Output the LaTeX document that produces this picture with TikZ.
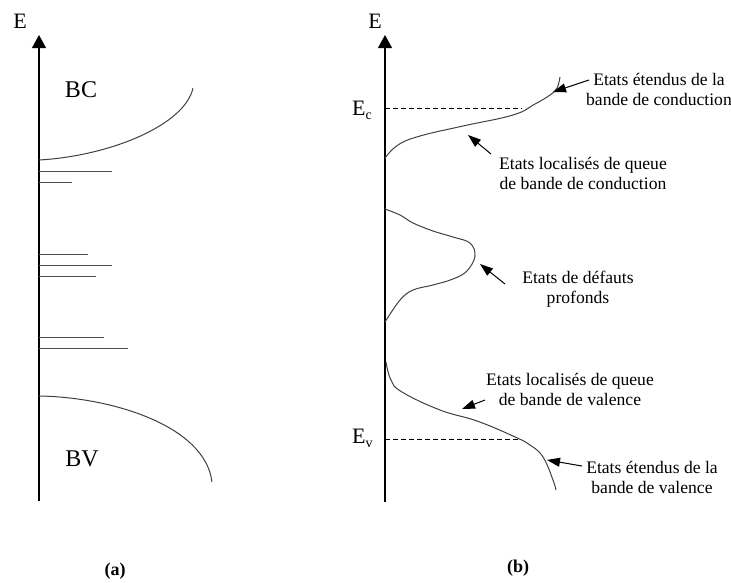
\documentclass[tikz,border=0pt]{standalone}
\usepackage{fontspec}
\setmainfont{Liberation Serif}
\usetikzlibrary{arrows.meta}
\begin{document}
\begin{tikzpicture}[x=1pt,y=-1pt,
 axis/.style={line width=1.2pt,-{Triangle[length=13pt,width=14pt]}},
 curve/.style={line width=1pt,draw=black!75},
 level/.style={line width=1pt,draw=black!70},
 lbl/.style={font=\fontsize{17.6}{20}\selectfont,align=center,inner sep=0pt},
 big/.style={font=\fontsize{24}{28}\selectfont,inner sep=0pt},
 captxt/.style={font=\fontsize{18}{20}\selectfont\bfseries,inner sep=0pt},
 ptr/.style={line width=1pt,-{Triangle[length=13pt,width=9pt]}},
 dashln/.style={line width=0.8pt,dash pattern=on 5pt off 3pt}]
\useasboundingbox (0,0) rectangle (731,582);
% ---------- panel (a)
\coordinate (a0) at (39,501);
\coordinate (a1) at (39,35);
\draw[axis] (a0) -- (a1);
\node[big,font=\fontsize{22}{24}\selectfont] (Ea) at (20,21) {E};
\node[big] (BC) at (81,90) {BC};
\node[big] (BV) at (82,459) {BV};
\coordinate (bcS) at (39,160);
\coordinate (bcE) at (193,88);
\draw[curve] (bcS) .. controls (110,156) and (185,125) .. (bcE);
\coordinate (bvS) at (39,396);
\coordinate (bvE) at (212,482);
\draw[curve] (bvS) .. controls (110,397) and (205,425) .. (bvE);
\foreach \y/\x [count=\i] in {171/112,182/72,254/88,265/112,276/96,337/104,348/128}{
  \coordinate (l\i s) at (39,\y);
  \coordinate (l\i e) at (\x,\y);
  \draw[level] (l\i s) -- (l\i e);
}
\node[captxt] (capa) at (115,571) {(a)};
% ---------- panel (b)
\coordinate (b0) at (385,502);
\coordinate (b1) at (385,35);
\draw[axis] (b0) -- (b1);
\node[big,font=\fontsize{22}{24}\selectfont] (Eb) at (375,21) {E};
\node[big,font=\fontsize{22}{24}\selectfont,anchor=west] (Ec) at (352,110) {E\raisebox{-4pt}{\fontsize{14}{14}\selectfont c}};
\node[big,font=\fontsize{22}{24}\selectfont,anchor=west] (Ev) at (352,438) {E\raisebox{-4pt}{\fontsize{14}{14}\selectfont v}};
\coordinate (dc0) at (385,108);
\coordinate (dc1) at (522,108);
\draw[dashln] (dc0) -- (dc1);
\coordinate (dv0) at (385,439);
\coordinate (dv1) at (518,439);
\draw[dashln] (dv0) -- (dv1);
% conduction band tail
\draw[curve] plot[smooth,tension=0.7] coordinates {(385,158) (398,145) (420,136) (463,126) (513,115) (535,104) (550,95) (557,88) (560,77)};
% deep defects
\draw[curve] plot[smooth,tension=0.6] coordinates {(385,209) (400,215) (413,223) (433,231) (453,237) (470,243) (475,256) (467,271) (453,279) (433,285) (413,290) (400,300) (385,322)};
% valence band tail
\draw[curve] plot[smooth,tension=0.7] coordinates {(386,362) (391,380) (402,392) (440,410) (477,421) (513,436) (530,445) (543,457) (553,480) (556,490)};
% labels and pointers
\node[lbl] (t1) at (659,89) {Etats étendus de la\\bande de conduction};
\coordinate (p1) at (553,92);
\coordinate (q1) at (589,80);
\draw[ptr] (q1) -- (p1);
\node[lbl] (t2) at (583,173) {Etats localisés de queue\\de bande de conduction};
\coordinate (p2) at (468,135);
\coordinate (q2) at (491,154);
\draw[ptr] (q2) -- (p2);
\node[lbl] (t3) at (578,289) {Etats de défauts\\profonds};
\coordinate (p3) at (480,264);
\coordinate (q3) at (505,284);
\draw[ptr] (q3) -- (p3);
\node[lbl] (t4) at (570,389) {Etats localisés de queue\\de bande de valence};
\coordinate (p4) at (462,409);
\coordinate (q4) at (485,400);
\draw[ptr] (q4) -- (p4);
\node[lbl] (t5) at (652,477) {Etats étendus de la\\bande de valence};
\coordinate (p5) at (547,460);
\coordinate (q5) at (582,466);
\draw[ptr] (q5) -- (p5);
\node[captxt] (capb) at (518,568) {(b)};
\end{tikzpicture}
\end{document}
